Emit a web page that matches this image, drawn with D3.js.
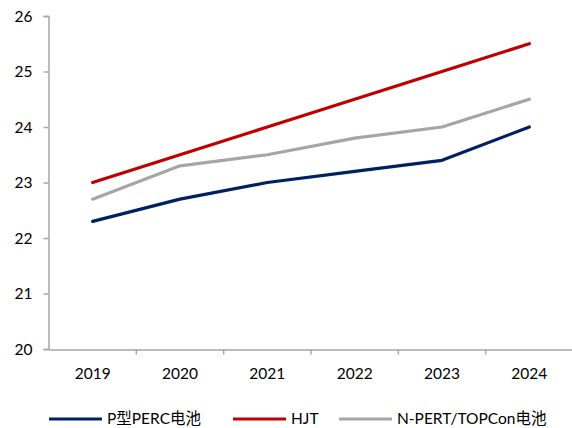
<!DOCTYPE html>
<html><head><meta charset="utf-8">
<script src="https://cdn.jsdelivr.net/npm/d3@7"></script>
<style>
html,body{margin:0;padding:0;background:#fff;}
text{font-family:Lato,"Noto Sans CJK SC",sans-serif;fill:#000;}
</style></head>
<body><svg id="c" width="572" height="428"></svg>
<script>
const years = ["2019","2020","2021","2022","2023","2024"];
const percValues = [22.3, 22.7, 23.0, 23.2, 23.4, 24.0];
const hjtValues = [23.0, 23.5, 24.0, 24.5, 25.0, 25.5];
const topconValues = [22.7, 23.3, 23.5, 23.8, 24.0, 24.5];
const yTicks = [20, 21, 22, 23, 24, 25, 26];
const seriesNames = ["P型PERC电池", "HJT", "N-PERT/TOPCon电池"];
const seriesColors = ["#002060", "#C00000", "#A6A6A6"];

const series = [
  {name: seriesNames[0], values: percValues, color: seriesColors[0]},
  {name: seriesNames[1], values: hjtValues, color: seriesColors[1]},
  {name: seriesNames[2], values: topconValues, color: seriesColors[2]}
];

const svg = d3.select("#c");
const x = d3.scaleBand().domain(years).range([49, 573]).padding(0);
const y = d3.scaleLinear().domain([20, 26]).range([349, 16]);
const axisColor = "#A6A6A6";

// y axis
const ya = svg.append("g").attr("transform", "translate(48.5,0)")
  .call(d3.axisLeft(y).tickValues(yTicks).tickSize(5).tickPadding(11).tickFormat(d3.format("d")));
ya.select(".domain").attr("stroke", axisColor).attr("stroke-width", 1.5);
ya.selectAll(".tick line").attr("stroke", axisColor).attr("stroke-width", 1.5);
ya.selectAll(".tick text").style("font-size", "15.5px").attr("dy", "0.35em");

// x axis
const xa = svg.append("g").attr("transform", "translate(0,349.5)")
  .call(d3.axisBottom(x).tickSize(0).tickPadding(18));
xa.select(".domain").attr("stroke", axisColor).attr("stroke-width", 1.5);
xa.selectAll(".tick text").style("font-size", "15.5px");
// tick marks at band boundaries
const bounds = years.map(d => x(d)).concat([x(years[years.length-1]) + x.bandwidth()]);
xa.selectAll(".bnd").data(bounds.slice(1)).enter().append("line")
  .attr("x1", d => d).attr("x2", d => d).attr("y1", 0).attr("y2", 5)
  .attr("stroke", axisColor).attr("stroke-width", 1.5);

// lines
const line = d3.line()
  .x((d, i) => x(years[i]) + x.bandwidth() / 2)
  .y(d => y(d));
svg.selectAll(".series").data(series).enter().append("path")
  .attr("d", d => line(d.values))
  .attr("fill", "none")
  .attr("stroke", d => d.color)
  .attr("stroke-width", 3.2)
  .attr("stroke-linecap", "round")
  .attr("stroke-linejoin", "round");

// legend
const legendX = [49, 233, 339];
const lg = svg.selectAll(".lg").data(series).enter().append("g")
  .attr("transform", (d, i) => `translate(${legendX[i]},419)`);
lg.append("line").attr("x1", 0).attr("x2", 53).attr("y1", 0).attr("y2", 0)
  .attr("stroke", d => d.color).attr("stroke-width", 3.2);
lg.append("text").attr("x", 58).attr("y", 0).attr("dy", "0.35em")
  .style("font-size", "15.5px").text(d => d.name);
</script></body></html>
